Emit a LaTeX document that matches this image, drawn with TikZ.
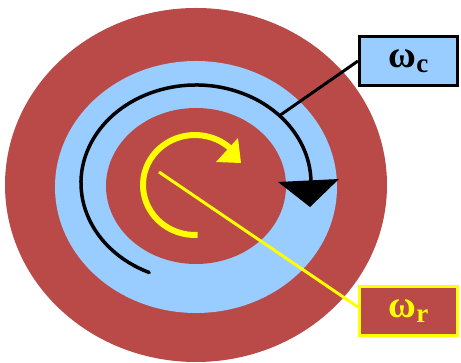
\documentclass[tikz,border=0pt]{standalone}
\usepackage{fontspec}
\setmainfont{Liberation Serif}
\definecolor{ringred}{RGB}{185,74,72}
\definecolor{ringblue}{RGB}{153,204,255}
\definecolor{yel}{RGB}{255,255,0}
\begin{document}
\begin{tikzpicture}[x=1pt,y=1pt,
  labelbox/.style={draw,line width=3pt,minimum width=98pt,minimum height=49pt,inner sep=0pt,font=\fontsize{38}{38}\selectfont\bfseries}]
\useasboundingbox (0,0) rectangle (461,363);
% rings
\fill[ringred] (196,178) ellipse[x radius=191,y radius=177];
\fill[ringblue] (196,176) ellipse[x radius=141,y radius=126];
\fill[ringred] (196,177) ellipse[x radius=90,y radius=78];
% black rotation arc
\draw[line width=3.5pt,line cap=round] (196,180) ++(246:115 and 98) arc[start angle=246,end angle=0,x radius=115,y radius=98];
\fill (278,181) -- (339,184) -- (310,156) -- cycle;
% yellow rotation arc
\draw[yel,line width=6pt] (195,178) ++(273:52 and 50) arc[start angle=273,end angle=48,x radius=52,y radius=50];
\fill[yel] (238,225) -- (216,201) -- (241,200) -- cycle;
% labels
\node[labelbox,fill=ringblue,draw=black] (wc) at (408.5,302) {ω\raisebox{-0.3ex}{\fontsize{27}{27}\selectfont c}};
\node[labelbox,fill=ringred,draw=yel,text=yel] (wr) at (408.5,52) {ω\raisebox{-0.3ex}{\fontsize{27}{27}\selectfont r}};
% connectors
\coordinate (cfoot) at (279,247);
\coordinate (rfoot) at (159,191);
\draw[line width=3pt] (cfoot) -- (wc.west);
\draw[yel,line width=3pt] (rfoot) -- ([yshift=4pt]wr.west);
\end{tikzpicture}
\end{document}
